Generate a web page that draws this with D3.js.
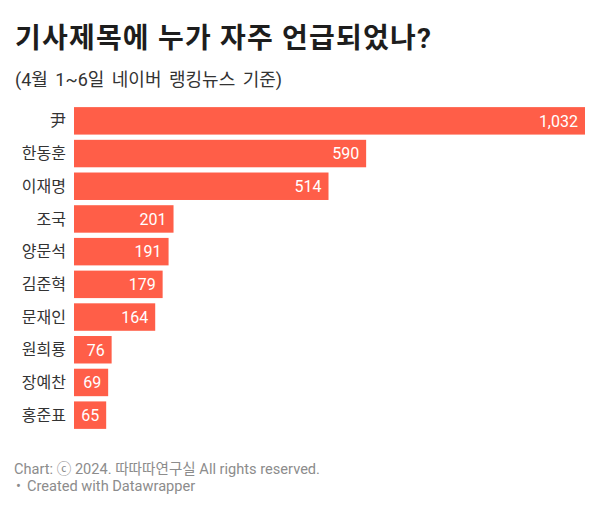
<!DOCTYPE html>
<html>
<head>
<meta charset="utf-8">
<script src="https://cdn.jsdelivr.net/npm/d3@7"></script>
<style>
  body { margin: 0; background: #fff; }
  svg { display: block; font-family: Roboto, "Noto Sans CJK KR", sans-serif; }
</style>
</head>
<body>
<script>
var width = 600, height = 510;

// data
var names = ["尹", "한동훈", "이재명", "조국", "양문석", "김준혁", "문재인", "원희룡", "장예찬", "홍준표"];
var counts = [1032, 590, 514, 201, 191, 179, 164, 76, 69, 65];

var title = "기사제목에 누가 자주 언급되었나?";
var subtitle = "(4월 1~6일 네이버 랭킹뉴스 기준)";
var footer1 = "Chart: ⓒ 2024. 따따따연구실 All rights reserved.";
var footer2 = "Created with Datawrapper";

const svg = d3.select("body").append("svg").attr("width", width).attr("height", height);

svg.append("text").attr("x", 15).attr("y", 48)
  .attr("font-size", 28).attr("font-weight", 700).attr("fill", "#1d1d1d")
  .style("letter-spacing", "1.2px")
  .text(title);

svg.append("text").attr("x", 15).attr("y", 86)
  .attr("font-size", 18).attr("fill", "#333")
  .style("word-spacing", "3px")
  .text(subtitle);

const x = d3.scaleLinear().domain([0, d3.max(counts)]).range([74, 585]);
const y = d3.scaleBand().domain(names).range([104.5, 431.5]).paddingInner(0.16).paddingOuter(0.08);

const data = names.map((n, i) => ({ name: n, value: counts[i] }));

const g = svg.append("g");

g.selectAll("rect").data(data).enter().append("rect")
  .attr("x", x(0))
  .attr("y", d => y(d.name))
  .attr("width", d => x(d.value) - x(0))
  .attr("height", y.bandwidth())
  .attr("fill", "#ff5e48");

// category labels
g.selectAll("text.cat").data(data).enter().append("text")
  .attr("class", "cat")
  .attr("x", 66)
  .attr("y", d => y(d.name) + y.bandwidth() / 2)
  .attr("dy", "0.35em")
  .attr("text-anchor", "end")
  .attr("font-size", 16)
  .attr("fill", "#333")
  .text(d => d.name);

// value labels
g.selectAll("text.val").data(data).enter().append("text")
  .attr("class", "val")
  .attr("x", d => x(d.value) - 7)
  .attr("y", d => y(d.name) + y.bandwidth() / 2)
  .attr("dy", "0.36em")
  .attr("text-anchor", "end")
  .attr("font-size", 16)
  .attr("fill", "#fff")
  .text(d => d3.format(",")(d.value));

svg.append("text").attr("x", 14).attr("y", 473.5)
  .attr("font-size", 14.6).attr("fill", "#8c8c8c")
  .text(footer1);

svg.append("text").attr("x", 16).attr("y", 491)
  .attr("font-size", 14.6).attr("fill", "#8c8c8c")
  .text("•");
svg.append("text").attr("x", 27).attr("y", 491)
  .attr("font-size", 14.6).attr("fill", "#8c8c8c")
  .text(footer2);
</script>
</body>
</html>
